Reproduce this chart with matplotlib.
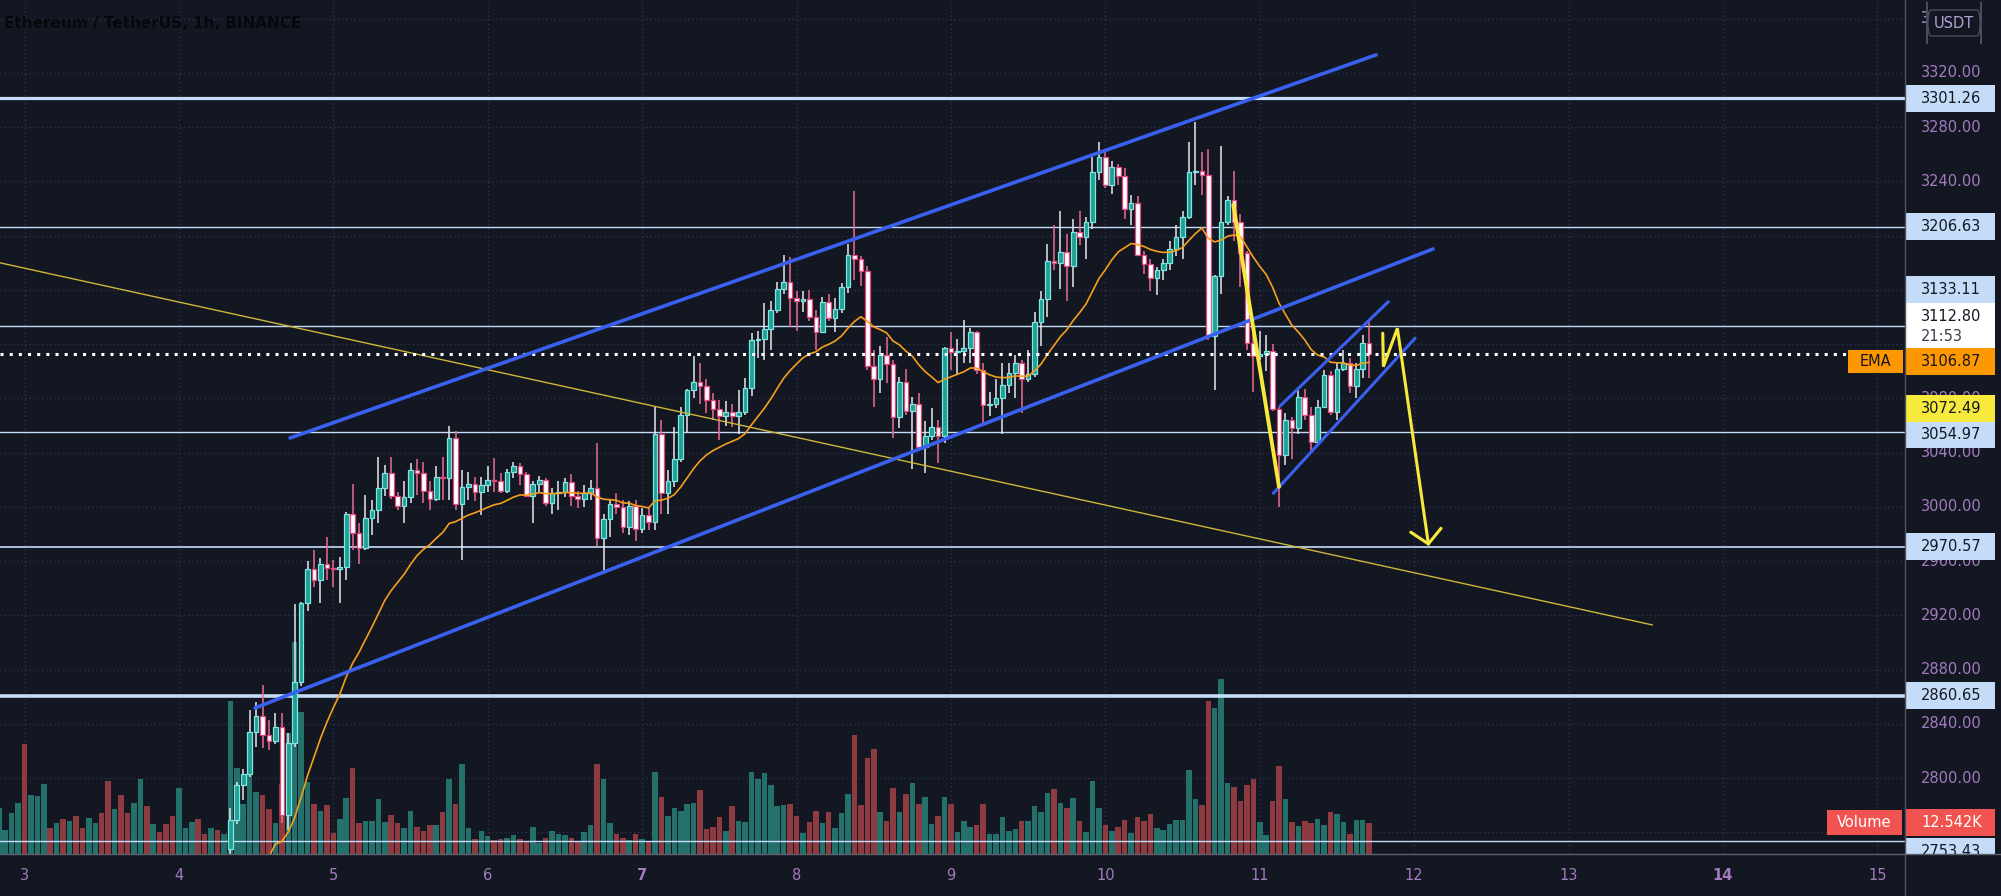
import matplotlib
matplotlib.use("Agg")
import matplotlib.pyplot as plt
import matplotlib.transforms as mtransforms
from matplotlib.patches import Rectangle, FancyBboxPatch
from matplotlib.lines import Line2D

plt.rcParams['font.family'] = ['DejaVu Sans']

# ---- data: ETHUSDT 1h, hours counted from day 4 00:00 ----
first_hour = 8   # first candle on screen (day 4, 08:00)

opens = [2748, 2769, 2795, 2803, 2834, 2846, 2832, 2827, 2838, 2773,
         2826, 2871, 2929, 2954, 2946, 2958, 2955, 2954, 2956, 2995,
         2981, 2970, 2992, 2998, 3014, 3025, 3008, 3001, 3007, 3027,
         3025, 3012, 3006, 3022, 3021, 3051, 3002, 3015, 3017, 3011,
         3016, 3020, 3019, 3012, 3026, 3030, 3024, 3008, 3017, 3020,
         3003, 3010, 3011, 3018, 3008, 3006, 3010, 3014, 2977, 2991,
         3002, 3000, 2985, 3001, 2984, 2994, 2989, 3054, 3010, 3019,
         3035, 3068, 3086, 3092, 3089, 3079, 3072, 3067, 3070, 3067,
         3070, 3088, 3123, 3124, 3131, 3145, 3161, 3166, 3154, 3152,
         3153, 3140, 3129, 3151, 3139, 3146, 3162, 3186, 3183, 3174,
         3104, 3094, 3112, 3105, 3066, 3092, 3071, 3076, 3044, 3052,
         3059, 3052, 3117, 3114, 3115, 3117, 3129, 3101, 3075, 3076,
         3080, 3090, 3099, 3106, 3094, 3098, 3136, 3153, 3181, 3180,
         3188, 3178, 3203, 3199, 3210, 3247, 3258, 3237, 3251, 3244,
         3220, 3224, 3186, 3179, 3169, 3175, 3180, 3190, 3199, 3214,
         3247, 3248, 3245, 3126, 3170, 3210, 3226, 3210, 3187, 3121,
         3111, 3113, 3115, 3072, 3038, 3064, 3058, 3081, 3068, 3048,
         3074, 3097, 3070, 3102, 3106, 3089, 3102, 3121]

highs = [2778, 2797, 2807, 2850, 2856, 2869, 2843, 2848, 2848, 2833,
         2928, 2930, 2960, 2968, 2962, 2978, 2961, 2963, 2996, 3017,
         2988, 3009, 3005, 3037, 3031, 3037, 3011, 3019, 3032, 3035,
         3033, 3019, 3030, 3037, 3060, 3056, 3027, 3026, 3022, 3022,
         3030, 3036, 3025, 3028, 3033, 3032, 3026, 3019, 3023, 3021,
         3014, 3019, 3021, 3024, 3012, 3016, 3020, 3047, 2995, 3006,
         3010, 3005, 3004, 3005, 2999, 2999, 3074, 3064, 3027, 3059,
         3074, 3087, 3111, 3106, 3094, 3084, 3079, 3078, 3076, 3086,
         3095, 3128, 3130, 3150, 3152, 3166, 3186, 3184, 3159, 3159,
         3160, 3145, 3155, 3157, 3154, 3165, 3194, 3233, 3185, 3178,
         3116, 3119, 3125, 3108, 3096, 3102, 3081, 3084, 3063, 3073,
         3064, 3118, 3129, 3124, 3138, 3132, 3130, 3106, 3085, 3094,
         3106, 3106, 3112, 3108, 3116, 3144, 3159, 3194, 3208, 3218,
         3201, 3212, 3218, 3214, 3258, 3269, 3262, 3255, 3253, 3250,
         3230, 3229, 3189, 3183, 3177, 3183, 3196, 3208, 3218, 3269,
         3284, 3262, 3264, 3171, 3266, 3229, 3248, 3216, 3189, 3130,
         3130, 3127, 3120, 3074, 3069, 3066, 3086, 3087, 3074, 3079,
         3101, 3100, 3107, 3116, 3110, 3106, 3127, 3138]

lows = [2735, 2766, 2784, 2801, 2823, 2822, 2821, 2825, 2767, 2762,
        2823, 2868, 2923, 2941, 2929, 2946, 2941, 2929, 2946, 2968,
        2958, 2968, 2979, 2988, 3008, 3006, 2998, 2988, 3003, 3009,
        3003, 2998, 3004, 3005, 3005, 2998, 2961, 3005, 3004, 2994,
        3011, 3011, 3010, 3010, 3021, 3016, 3008, 2988, 3011, 3001,
        2995, 2998, 3007, 3001, 2999, 3000, 3005, 2971, 2951, 2978,
        2995, 2981, 2979, 2975, 2981, 2983, 2983, 2995, 2995, 3015,
        3033, 3055, 3080, 3076, 3069, 3064, 3049, 3060, 3059, 3054,
        3068, 3082, 3110, 3108, 3116, 3143, 3157, 3133, 3130, 3144,
        3137, 3116, 3128, 3137, 3129, 3143, 3158, 3167, 3163, 3101,
        3074, 3084, 3091, 3051, 3058, 3068, 3028, 3041, 3025, 3049,
        3032, 3047, 3101, 3097, 3106, 3106, 3098, 3062, 3067, 3073,
        3054, 3084, 3080, 3069, 3092, 3096, 3119, 3140, 3175, 3161,
        3152, 3162, 3193, 3183, 3205, 3241, 3235, 3231, 3237, 3212,
        3208, 3185, 3172, 3159, 3156, 3167, 3175, 3185, 3183, 3212,
        3237, 3230, 3123, 3086, 3157, 3208, 3196, 3162, 3116, 3085,
        3108, 3100, 3071, 3000, 3031, 3035, 3054, 3064, 3041, 3047,
        3073, 3068, 3064, 3100, 3084, 3080, 3095, 3095]

closes = [2769, 2795, 2803, 2834, 2846, 2832, 2827, 2838, 2773, 2826,
          2871, 2929, 2954, 2946, 2958, 2955, 2954, 2956, 2995, 2981,
          2970, 2992, 2998, 3014, 3025, 3008, 3001, 3007, 3027, 3025,
          3012, 3006, 3022, 3021, 3051, 3002, 3015, 3017, 3011, 3016,
          3020, 3019, 3012, 3026, 3030, 3024, 3008, 3017, 3020, 3003,
          3010, 3011, 3018, 3008, 3006, 3010, 3014, 2977, 2991, 3002,
          3000, 2985, 3001, 2984, 2994, 2989, 3054, 3010, 3019, 3035,
          3068, 3086, 3092, 3089, 3079, 3072, 3067, 3070, 3067, 3070,
          3088, 3123, 3124, 3131, 3145, 3161, 3166, 3154, 3152, 3153,
          3140, 3129, 3151, 3139, 3146, 3162, 3186, 3183, 3174, 3104,
          3094, 3112, 3105, 3066, 3092, 3071, 3076, 3044, 3052, 3059,
          3052, 3117, 3114, 3115, 3117, 3129, 3101, 3075, 3076, 3080,
          3090, 3099, 3106, 3094, 3098, 3136, 3153, 3181, 3180, 3188,
          3178, 3203, 3199, 3210, 3247, 3258, 3237, 3251, 3244, 3220,
          3224, 3186, 3179, 3169, 3175, 3180, 3190, 3199, 3214, 3247,
          3248, 3245, 3126, 3170, 3210, 3226, 3210, 3187, 3121, 3111,
          3113, 3115, 3072, 3038, 3064, 3058, 3081, 3068, 3048, 3074,
          3097, 3070, 3102, 3106, 3089, 3102, 3121, 3112.80]

# volume in K for the candles above
volumes = [62.0, 34.8, 20.3, 34.0, 25.1, 23.9, 18.2, 12.6, 28.4, 49.0,
           85.9, 57.5, 29.2, 20.3, 17.4, 19.8, 8.5, 14.2, 22.7, 34.8,
           12.6, 13.4, 13.4, 22.3, 13.0, 15.8, 12.6, 10.5, 17.4, 10.9,
           9.3, 11.7, 11.7, 17.0, 30.4, 20.3, 36.5, 10.5, 6.1, 9.3,
           7.3, 5.7, 6.1, 6.5, 7.7, 6.1, 5.3, 10.9, 4.5, 6.5,
           9.3, 8.1, 7.7, 6.5, 4.9, 8.9, 11.7, 36.5, 30.4, 12.6,
           8.1, 6.5, 5.7, 8.1, 6.1, 4.9, 33.2, 23.1, 15.4, 18.6,
           17.4, 20.3, 20.7, 25.9, 10.1, 10.9, 15.0, 9.3, 19.4, 13.4,
           13.0, 33.2, 30.4, 32.8, 27.9, 19.4, 19.8, 20.3, 15.4, 8.5,
           13.0, 17.4, 12.6, 17.0, 10.5, 16.6, 24.3, 48.2, 19.8, 38.9,
           42.5, 17.0, 13.4, 26.7, 17.0, 24.3, 28.8, 20.3, 23.1, 12.2,
           15.4, 23.1, 20.3, 8.9, 13.4, 10.9, 11.7, 20.3, 8.1, 8.1,
           15.0, 9.3, 10.1, 13.4, 13.4, 19.4, 17.0, 24.7, 26.3, 20.7,
           18.6, 22.7, 13.4, 8.9, 29.6, 18.6, 11.7, 9.3, 10.9, 13.8,
           8.5, 15.0, 13.4, 16.2, 10.5, 9.7, 12.2, 13.8, 13.8, 34.0,
           22.3, 19.8, 62.0, 59.1, 70.9, 28.8, 27.1, 21.5, 27.9, 30.4,
           13.0, 7.7, 21.5, 35.6, 22.3, 13.0, 11.3, 13.4, 12.6, 14.2,
           11.7, 17.0, 16.2, 13.0, 8.1, 13.8, 13.8, 12.542]

# volume bars of the hours before the first visible candle (price off-screen)
pre_first_hour = -28
pre_volumes = [18.6, 9.7, 16.6, 20.7, 44.6, 23.9, 23.5, 28.4, 10.5, 12.6,
               14.2, 13.4, 15.4, 10.5, 14.6, 12.6, 16.6, 29.6, 18.2, 23.9,
               16.6, 20.7, 30.4, 19.4, 12.2, 8.9, 12.2, 15.4, 26.7, 10.5,
               13.0, 14.2, 8.1, 10.5, 9.7, 8.1]
pre_up = [1, 1, 1, 1, 0, 1, 1, 1, 0, 1, 0, 1, 0, 0, 1, 1, 0, 0, 1, 0,
          0, 1, 1, 0, 1, 0, 0, 0, 1, 1, 1, 0, 0, 1, 0, 1]

ema_period = 20
ema_seed = 2664          # EMA value on the bar before the first visible candle
ema_last = 3106.87
last_price = 3112.80
countdown = "21:53"

levels = [3301.26, 3206.63, 3133.11, 3054.97, 2970.57, 2860.65, 2753.43]
extra_label = 3072.49

# drawings: (day, price) anchors
upper_channel = [(4.7196, 3050.8), (11.753, 3333.3)]
lower_channel = [(4.4929, 2851.7), (12.1224, 3190.2)]
wedge_upper = [(11.1315, 3074.4), (11.8329, 3151.3)]
wedge_lower = [(11.088, 3010.0), (12.006, 3124.4)]
down_trend = [(2.80, 3181.0), (13.5434, 2912.9)]
drop_leg = [(10.829, 3222.7), (11.1247, 3014.7)]
forecast_path = [(11.7966, 3128.0), (11.8005, 3103.4), (11.8912, 3131.7), (12.0920, 2972.7)]
arrow_head = [(11.978, 2981.3), (12.0920, 2972.7), (12.1742, 2984.2)]

days = list(range(3, 16))
bold_days = [7, 14]
price_ticks = list(range(2760, 3361, 40))
hidden_ticks = [3160, 3120, 2760]   # fully covered by price tags on the source

# ---- styles ----
BG = '#131722'
GRID = '#2d3150'
AXIS_TXT = '#a47bc0'
LEVEL = '#c5dcf8'
BLUE = '#3a60f0'
YELLOW = '#f7e83c'
YELLOW_THIN = '#cdb83a'
EMA_C = '#f59f1b'
UP_FILL, UP_EDGE, UP_WICK = '#1fa091', '#7fe6e6', '#e6e9ee'
DN_FILL, DN_EDGE, DN_WICK = '#ffffff', '#e8467c', '#f06b95'
VOL_UP, VOL_DN = '#24706b', '#8d3b40'
level_lw = {3301.26: 2.3, 2860.65: 2.6, 2970.57: 1.2}

W, H = 2001, 896
pane_w, pane_h = 1905, 854
x_min, x_max = 2.8413, 15.1788
y_min, y_max = 2744.0, 3373.8
vol_top = 345.5
ppu = pane_h / (y_max - y_min)

fig = plt.figure(figsize=(W / 100, H / 100), dpi=100, facecolor=BG)
ax = fig.add_axes([0, (H - pane_h) / H, pane_w / W, pane_h / H], facecolor=BG)
axr = fig.add_axes([pane_w / W, (H - pane_h) / H, (W - pane_w) / W, pane_h / H],
                   facecolor=BG, sharey=ax)
for a in (ax, axr):
    for s in a.spines.values():
        s.set_visible(False)
    a.tick_params(left=False, bottom=False, labelleft=False, labelbottom=False)

# grid
for d in days:
    ax.axvline(d, color=GRID, lw=1, linestyle=(0, (1, 2)), zorder=0)
for p in price_ticks:
    ax.axhline(p, color=GRID, lw=1, linestyle=(0, (1, 2)), zorder=0)

# volume
vol_trans = mtransforms.blended_transform_factory(
    ax.transData, mtransforms.Affine2D().scale(1, 1 / vol_top) + ax.transAxes)
t_pre = [4 + (pre_first_hour + i) / 24 for i in range(len(pre_volumes))]
t_c = [4 + (first_hour + i) / 24 for i in range(len(closes))]
up = [c >= o for o, c in zip(opens, closes)]
ax.bar(t_pre, pre_volumes, width=0.86 / 24, bottom=0,
       color=[VOL_UP if u else VOL_DN for u in pre_up], transform=vol_trans, zorder=1)
ax.bar(t_c, volumes, width=0.86 / 24, bottom=0,
       color=[VOL_UP if u else VOL_DN for u in up], transform=vol_trans, zorder=1)

# horizontal levels
for lv in levels:
    ax.axhline(lv, color=LEVEL, lw=level_lw.get(lv, 1.0), zorder=2)

# candles
ax.vlines(t_c, lows, highs, colors=[UP_WICK if u else DN_WICK for u in up], lw=1.1, zorder=3)
ax.bar(t_c, [max(abs(c - o), 0.9) for o, c in zip(opens, closes)], width=0.72 / 24,
       bottom=[min(o, c) for o, c in zip(opens, closes)],
       color=[UP_FILL if u else DN_FILL for u in up],
       edgecolor=[UP_EDGE if u else DN_EDGE for u in up], linewidth=0.9, zorder=4)

# EMA
ema = []
e = ema_seed
k = 2 / (ema_period + 1)
for c in closes:
    e = e + k * (c - e)
    ema.append(e)
ax.plot(t_c, ema, color=EMA_C, lw=1.2, zorder=5)

# last price dotted line
ax.axhline(last_price, color='white', lw=2.2, linestyle=(0, (1, 2)), zorder=6)

# drawings
def draw(pts, **kw):
    ax.plot([p[0] for p in pts], [p[1] for p in pts], solid_capstyle='round', **kw)

draw(down_trend, color=YELLOW_THIN, lw=1.0, zorder=5)
draw(upper_channel, color=BLUE, lw=2.6, zorder=7)
draw(lower_channel, color=BLUE, lw=2.6, zorder=7)
draw(wedge_upper, color=BLUE, lw=2.2, zorder=7)
draw(wedge_lower, color=BLUE, lw=2.2, zorder=7)
draw(drop_leg, color=YELLOW, lw=2.8, zorder=8)
draw(forecast_path, color=YELLOW, lw=2.2, zorder=8, solid_joinstyle='miter')
draw(arrow_head, color=YELLOW, lw=2.2, zorder=8, solid_joinstyle='miter')

ax.set_xlim(x_min, x_max)
ax.set_ylim(y_min, y_max)
axr.set_xlim(0, W - pane_w)

# day labels
xlab = mtransforms.blended_transform_factory(ax.transData, ax.transAxes)
for d in days:
    ax.text(d, -21 / pane_h, str(d), transform=xlab, ha='center', va='center',
            color=AXIS_TXT, fontsize=10.5, fontweight='bold' if d in bold_days else 'normal',
            clip_on=False)

# price scale
for p in price_ticks + [3360]:
    if p in hidden_ticks:
        continue
    axr.text(16, p, f"{p:.2f}", color=AXIS_TXT, fontsize=10.5, va='center', ha='left', zorder=1)


def price_box(yc, text, face, fg, half=13.5, x0=0, x1=90, tx=16):
    axr.add_patch(Rectangle((x0, yc - half / ppu), x1 - x0, 2 * half / ppu,
                            facecolor=face, edgecolor='none', zorder=3))
    axr.text(tx, yc, text, color=fg, fontsize=10.5, va='center', ha='left', zorder=4)


# stacked labels are pushed up/down by a few pixels, like on the source
label_shift = {3133.11: 36.5, 3054.97: -2.5, 2753.43: -10}
for lv in levels:
    price_box(lv + label_shift.get(lv, 0) / ppu, f"{lv:.2f}", LEVEL, BG)
price_box(extra_label, f"{extra_label:.2f}", '#f7ea3c', BG)
price_box(ema_last, f"{ema_last:.2f}", '#ff9800', BG)

# last price box with countdown
wc = last_price + 28.5 / ppu
axr.add_patch(Rectangle((0, wc - 22.5 / ppu), 90, 45 / ppu, facecolor='white',
                        edgecolor='none', zorder=3))
axr.text(16, wc + 8.5 / ppu, f"{last_price:.2f}", color=BG, fontsize=10.5,
         va='center', ha='left', zorder=4)
axr.text(16, wc - 11.5 / ppu, countdown, color='#3c3f4a', fontsize=10.5,
         va='center', ha='left', zorder=4)

# volume value box
vol_y = y_min + volumes[-1] / vol_top * (y_max - y_min)
price_box(vol_y, f"{volumes[-1]:.3f}K", '#f05350', 'white')

# in-pane tags
tag = mtransforms.blended_transform_factory(ax.transAxes, ax.transData)
ax.add_patch(Rectangle((1848 / pane_w, ema_last - 11.5 / ppu), 55 / pane_w, 23 / ppu,
                       transform=tag, facecolor='#ff9800', edgecolor='none', zorder=9))
ax.text(1875 / pane_w, ema_last, "EMA", transform=tag, color=BG, fontsize=10.5,
        ha='center', va='center', zorder=10)
ax.add_patch(Rectangle((1827 / pane_w, vol_y - 12.5 / ppu), 75 / pane_w, 25 / ppu,
                       transform=tag, facecolor='#f05350', edgecolor='none', zorder=9))
ax.text(1864 / pane_w, vol_y, "Volume", transform=tag, color='white', fontsize=10.5,
        ha='center', va='center', zorder=10)

# currency box
axr.add_patch(FancyBboxPatch((22 / 96, 1 - 36 / pane_h), 54 / 96, 26 / pane_h,
                             boxstyle="round,pad=0,rounding_size=0.04",
                             transform=axr.transAxes, facecolor=BG, edgecolor='#4a4e5c',
                             lw=1, zorder=5))
axr.text(49 / 96, 1 - 23 / pane_h, "USDT", transform=axr.transAxes, color='#b3a2d6',
         fontsize=10.5, ha='center', va='center', zorder=6)

# separators
fig.add_artist(Line2D([pane_w / W] * 2, [0, 1], transform=fig.transFigure, color='#4f525e', lw=1))
fig.add_artist(Line2D([0, 1], [(H - pane_h) / H] * 2, transform=fig.transFigure, color='#5e616c', lw=1))

# title
fig.text(4 / W, 1 - 24 / H, "Ethereum / TetherUS, 1h, BINANCE", color='#07080c',
         fontsize=11, fontweight='bold', ha='left', va='center')

fig.savefig("out.png", dpi=100, facecolor=BG)
